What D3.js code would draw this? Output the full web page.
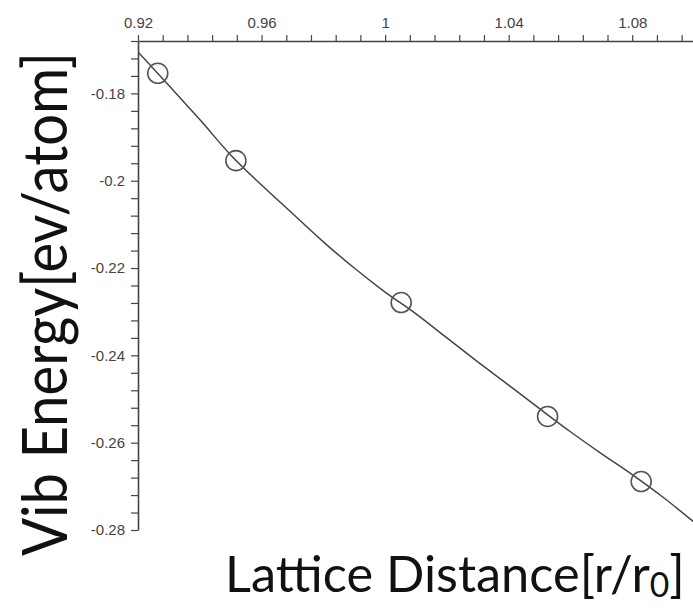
<!DOCTYPE html>
<html>
<head>
<meta charset="utf-8">
<script src="https://cdn.jsdelivr.net/npm/d3@7"></script>
<style>
  body { margin: 0; background: #fff; }
  svg { display: block; }
  .tick text { font-family: "Liberation Sans", Arial, sans-serif; font-size: 15px; fill: #444; }
  .axis path, .axis line { stroke: #444; }
  .big-label { font-family: Lato, "DejaVu Sans", sans-serif; fill: #111; }
</style>
</head>
<body>
<div id="chart"></div>
<script>
// measured points (open circles)
const pointX = [0.9264, 0.9517, 1.0052, 1.0526, 1.0829];
const pointY = [-0.1754, -0.1954, -0.2279, -0.2540, -0.2689];

// fitted curve
const curveX = [0.92, 0.93, 0.94, 0.95, 0.96, 0.97, 0.98, 0.99, 1.00, 1.01,
                1.02, 1.03, 1.04, 1.05, 1.06, 1.07, 1.08, 1.09, 1.10];
const curveY = [-0.1705, -0.1782, -0.1860, -0.1941, -0.2010, -0.2075, -0.2140, -0.2200, -0.2255, -0.2305,
                -0.2360, -0.2415, -0.2468, -0.2522, -0.2575, -0.2625, -0.2673, -0.2725, -0.2782];

// tick labels
const xMajorTicks = [0.92, 0.96, 1, 1.04, 1.08];
const yMajorTicks = [-0.18, -0.2, -0.22, -0.24, -0.26, -0.28];
const xMinorStep = 0.008;
const yMinorStep = 0.004;

const width = 693, height = 611;
const m = { left: 138, top: 41, right: 694, bottom: 530 };

const svg = d3.select("#chart").append("svg")
    .attr("width", width)
    .attr("height", height);

const x = d3.scaleLinear().domain([0.92, 1.10]).range([m.left, m.right]);
const y = d3.scaleLinear().domain([-0.28, -0.168]).range([m.bottom, m.top]);

const xTicks = d3.range(0, 23).map(i => +(0.92 + i * xMinorStep).toFixed(3));
const yTicks = d3.range(0, 29).map(i => +(-0.28 + i * yMinorStep).toFixed(3));
const isMajor = (v, list) => list.some(t => Math.abs(t - v) < 1e-6);

svg.append("g")
    .attr("class", "axis")
    .attr("transform", `translate(0,${m.top})`)
    .call(d3.axisTop(x)
        .tickValues(xTicks)
        .tickSize(6)
        .tickSizeOuter(0)
        .tickPadding(7)
        .tickFormat(d => isMajor(d, xMajorTicks) ? String(d) : ""));

svg.append("g")
    .attr("class", "axis")
    .attr("transform", `translate(${m.left},0)`)
    .call(d3.axisLeft(y)
        .tickValues(yTicks)
        .tickSize(7)
        .tickSizeOuter(0)
        .tickPadding(6)
        .tickFormat(d => isMajor(d, yMajorTicks) ? String(d) : ""));

svg.selectAll(".axis path").attr("stroke-width", 1.6);
svg.selectAll(".axis line").attr("stroke-width", 1.2);

const line = d3.line()
    .x((d, i) => x(curveX[i]))
    .y((d, i) => y(curveY[i]))
    .curve(d3.curveMonotoneX);

svg.append("defs").append("clipPath").attr("id", "plot")
    .append("rect").attr("x", m.left).attr("y", m.top)
    .attr("width", m.right - m.left).attr("height", height - m.top);

svg.append("path")
    .datum(curveX)
    .attr("clip-path", "url(#plot)")
    .attr("d", line)
    .attr("fill", "none")
    .attr("stroke", "#444")
    .attr("stroke-width", 1.5);

svg.selectAll(".pt")
    .data(pointX)
    .enter()
    .append("circle")
    .attr("class", "pt")
    .attr("cx", d => x(d))
    .attr("cy", (d, i) => y(pointY[i]))
    .attr("r", 10)
    .attr("fill", "none")
    .attr("stroke", "#555")
    .attr("stroke-width", 1.6);

// axis titles, stretched to the width they have in the picture
const xLabel = svg.append("text")
    .attr("class", "big-label")
    .style("font-size", "51px");
xLabel.append("tspan").text("Lattice Distance[r/r");
xLabel.append("tspan").attr("dy", 5).style("font-size", "34px").text("0");
xLabel.append("tspan").attr("dy", -5).text("]");
const xw = xLabel.node().getBBox().width;
xLabel.attr("transform", `translate(225,592) scale(${460 / xw},1)`);

const yLabel = svg.append("text")
    .attr("class", "big-label")
    .style("font-size", "62px")
    .text("Vib Energy[ev/atom]");
const yw = yLabel.node().getBBox().width;
yLabel.attr("transform", `translate(67,556) rotate(-90) scale(${504 / yw},1)`);
</script>
</body>
</html>
